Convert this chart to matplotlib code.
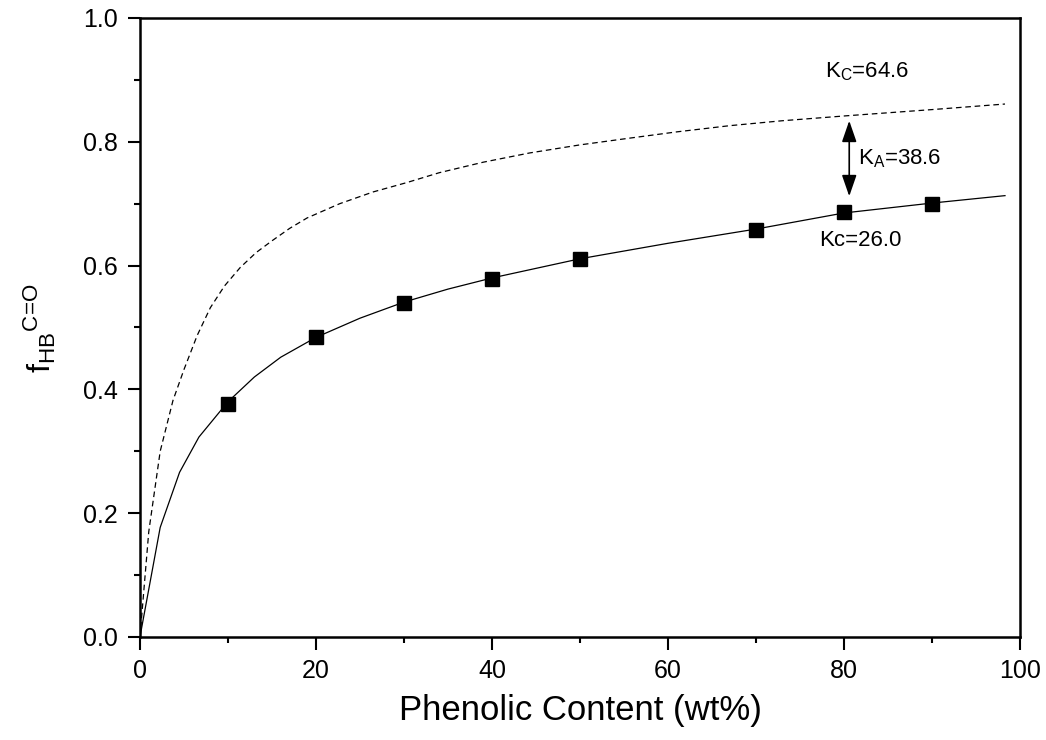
import numpy as np
import matplotlib
matplotlib.use("Agg")
import matplotlib.pyplot as plt
from matplotlib.patches import FancyArrowPatch

plt.rcParams['font.family'] = ['Liberation Sans', 'DejaVu Sans']
plt.rcParams['mathtext.fontset'] = 'custom'
plt.rcParams['mathtext.rm'] = 'Liberation Sans'
plt.rcParams['mathtext.it'] = 'Liberation Sans'

# measured points
x_pts = [10, 20, 30, 40, 50, 70, 80, 90]
y_pts = [0.376, 0.484, 0.540, 0.579, 0.610, 0.658, 0.687, 0.700]

# fitted curve, Kc = 26.0
x_fit = [0, 2.3, 4.5, 6.7, 10, 13, 16, 20, 25, 30, 35, 40, 50, 60, 70, 80, 90, 98.3]
y_fit = [0, 0.177, 0.266, 0.323, 0.380, 0.420, 0.452, 0.484, 0.515, 0.541,
         0.562, 0.580, 0.611, 0.636, 0.659, 0.685, 0.701, 0.713]

# curve for Kc = 64.6
x_kc = [0, 1, 2.3, 3.75, 5.0, 6.5, 8, 9.6, 11.4, 13.2, 15, 17, 19, 22.7, 26.5,
        30.3, 34, 39, 44.3, 50, 55.7, 61, 67, 73, 80.3, 90, 98.3]
y_kc = [0, 0.17, 0.30, 0.382, 0.432, 0.487, 0.532, 0.567, 0.597, 0.621, 0.640,
        0.660, 0.677, 0.700, 0.719, 0.734, 0.750, 0.767, 0.782, 0.795, 0.806,
        0.816, 0.826, 0.834, 0.842, 0.852, 0.861]

fig = plt.figure(figsize=(10.46, 7.40), dpi=100)
ax = fig.add_axes([0.1338, 0.1392, 0.8413, 0.8365])

ax.plot(x_kc, y_kc, color='black', lw=0.9, dashes=(4.5, 3))
ax.plot(x_fit, y_fit, color='black', lw=0.9)
ax.plot(x_pts, y_pts, 's', color='black', ms=9.5, mec='black')

arr = FancyArrowPatch((80.6, 0.712), (80.6, 0.834),
                      arrowstyle='<|-|>,head_length=1.3,head_width=0.45',
                      mutation_scale=10, color='black', lw=1.2,
                      shrinkA=0, shrinkB=0)
ax.add_patch(arr)

ax.text(77.8, 0.914, r'K$_\mathregular{C}$=64.6', fontsize=16, va='center', ha='left')
ax.text(81.6, 0.773, r'K$_\mathregular{A}$=38.6', fontsize=16, va='center', ha='left')
ax.text(77.2, 0.640, 'Kc=26.0', fontsize=16, va='center', ha='left')

ax.set_xlim(0, 100)
ax.set_ylim(0, 1.0)
ax.set_xticks([0, 20, 40, 60, 80, 100])
ax.set_xticks(np.arange(10, 100, 20), minor=True)
ax.set_yticks([0, 0.2, 0.4, 0.6, 0.8, 1.0])
ax.set_yticks([0.1, 0.3, 0.5, 0.7, 0.9], minor=True)
ax.set_yticklabels(['0.0', '0.2', '0.4', '0.6', '0.8', '1.0'])

ax.tick_params(which='major', direction='out', length=9, width=1.5, labelsize=18)
ax.tick_params(which='minor', direction='out', length=4.5, width=1.5)
ax.tick_params(axis='x', which='major', pad=7)
ax.tick_params(axis='y', which='major', pad=7)
for s in ax.spines.values():
    s.set_linewidth(1.8)

ax.set_xlabel('Phenolic Content (wt%)', fontsize=25, labelpad=8)
ax.set_ylabel(r'$\mathregular{f_{HB}{}^{C\!=\!O}}$', fontsize=23, labelpad=18)

fig.savefig('out.png', dpi=100)
